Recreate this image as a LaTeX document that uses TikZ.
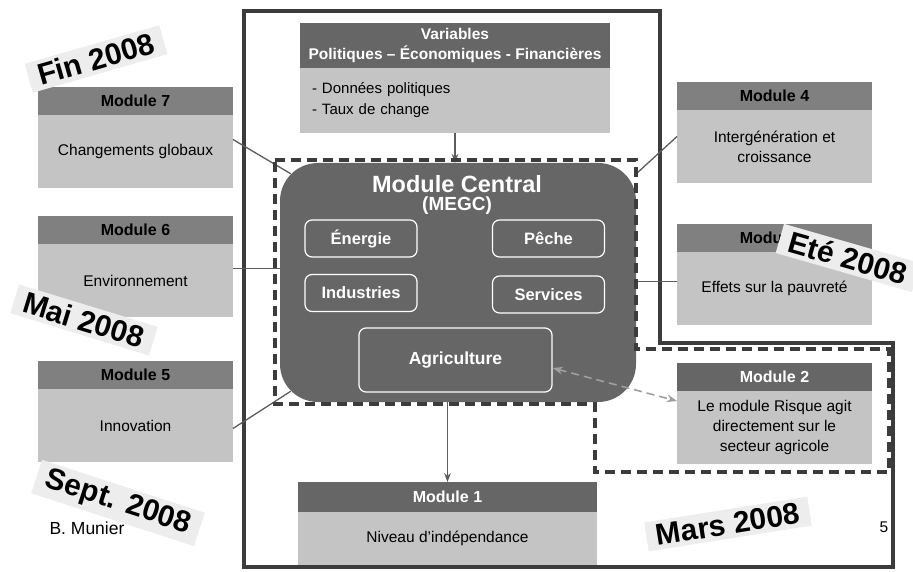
\documentclass[tikz,border=0pt]{standalone}
\usepackage{fontspec}
\setmainfont{Liberation Sans}
\usetikzlibrary{positioning,arrows.meta}
\definecolor{hdrgray}{HTML}{808080}
\definecolor{darkhdr}{HTML}{666666}
\definecolor{bodygray}{HTML}{C4C4C4}
\definecolor{framegray}{HTML}{3C3C3C}
\definecolor{linkgray}{HTML}{5C5C5C}
\definecolor{stagebg}{HTML}{EDEDED}

\begin{document}
\begin{tikzpicture}[x=1pt, y=-1pt, >=Stealth,
    hdr/.style = {fill=hdrgray, minimum width=195, minimum height=28, inner sep=0, outer sep=0, font=\fontsize{16}{18}\selectfont\bfseries},
    hdrw/.style = {hdr, fill=darkhdr, text=white},
    modbody/.style = {fill=bodygray, minimum width=195, minimum height=73, inner sep=0, outer sep=0, align=center, font=\fontsize{15.5}{20}\selectfont},
    sect/.style = {draw=white, line width=1.2pt, rounded corners=7, minimum width=112, minimum height=37, text=white, font=\fontsize{16.5}{18}\selectfont\bfseries},
    link/.style = {draw=linkgray, line width=1.3pt},
    stage/.style = {fill=stagebg, inner xsep=10, inner ysep=4, font=\fontsize{30}{36}\selectfont\bfseries}]
    \useasboundingbox (0,0) rectangle (913,572);

    % frame
    \draw[framegray, line width=4pt] (244,11) -- (660,11) -- (660,343) -- (893,343) -- (893,567) -- (244,567) -- cycle;

    % variables
    \node[hdrw, minimum width=310, minimum height=45, align=center, font=\fontsize{15.5}{20}\selectfont\bfseries] (vh) at (455,45.5) {Variables\\Politiques -- Économiques - Financières};
    \node[modbody, minimum width=310, minimum height=65, text width=286, align=left, font=\fontsize{15}{21}\selectfont] (vb) [below=0pt of vh] {- Données politiques\\- Taux de change};

    % central module
    \node[fill=darkhdr, rounded corners=38, minimum width=356, minimum height=239] (central) at (458,282.5) {};
    \node[text=white, font=\fontsize{23.5}{26}\selectfont\bfseries] (ctitle) at (457,184) {Module Central};
    \node[text=white, font=\fontsize{19}{22}\selectfont\bfseries] (cmegc) at (457,206) {(MEGC)};
    \node[sect] (energie) at (361,238.5) {Énergie};
    \node[sect] (peche) at (548.5,238.5) {Pêche};
    \node[sect] (indus) at (361,293) {Industries};
    \node[sect] (serv) at (548.5,294.5) {Services};
    \node[sect, minimum width=193, minimum height=64, font=\fontsize{17.5}{20}\selectfont\bfseries] (agri) at (455.5,360) {Agriculture};

    % modules
    \node[hdr] (m7h) at (135.5,101) {Module 7};
    \node[modbody] (m7) [below=0pt of m7h] {Changements globaux};
    \node[hdr] (m6h) at (135.5,230) {Module 6};
    \node[modbody] (m6) [below=0pt of m6h] {Environnement};
    \node[hdr] (m5h) at (135.5,375) {Module 5};
    \node[modbody] (m5) [below=0pt of m5h] {Innovation};
    \node[hdr] (m4h) at (774.5,96) {Module 4};
    \node[modbody] (m4) [below=0pt of m4h] {Intergénération et\\croissance};
    \node[hdr] (m3h) at (774.5,238) {Module 3};
    \node[modbody] (m3) [below=0pt of m3h] {Effets sur la pauvreté};
    \node[hdrw] (m2h) at (774.5,377) {Module 2};
    \node[modbody] (m2) [below=0pt of m2h] {Le module Risque agit\\directement sur le\\secteur agricole};
    \node[hdrw, minimum width=299, minimum height=30] (m1h) at (447.5,497) {Module 1};
    \node[modbody, minimum width=299, minimum height=53] (m1) [below=0pt of m1h] {Niveau d'indépendance};

    % links
    \draw[link, ->] (vb.south) -- (vb.south |- central.north);
    \draw[link, ->] (central.south -| m1h.north) -- (m1h.north);
    \draw[link, <->, draw=gray!75, line width=1.6pt, dash pattern=on 8pt off 5pt] ([yshift=-8pt]agri.east) -- ([yshift=-10pt]m2.north west);
    \draw[link] ([yshift=12pt]m7.east) -- ([xshift=11pt, yshift=-11pt]central.north west);
    \draw[link] ([yshift=12pt]m6.east) -- ([yshift=12pt]m6.east -| central.west);
    \draw[link] ([yshift=-3pt]m5.east) -- ([xshift=11pt, yshift=11pt]central.south west);
    \draw[link] ([yshift=10pt]m4.west) -- ([yshift=-11pt]central.north east);
    \draw[link] ([yshift=7pt]m3.west) -- ([yshift=7pt]m3.west -| central.east);

    % dashed stage
    \draw[framegray, line width=4pt, dash pattern=on 10pt off 6pt] (275,160) -- (636,160) -- (636,349) -- (889,349) -- (889,472) -- (595,472) -- (595,404) -- (275,404) -- cycle;

    % stages
    \node[stage, rotate=16] (fin) at (96,59) {Fin 2008};
    \node[stage, rotate=-17] (mai) at (84,320) {Mai 2008};
    \node[stage, rotate=-18] (sept) at (118,503) {Sept. 2008};
    \node[stage, rotate=-16] (ete) at (848,258) {Eté 2008};
    \node[stage, rotate=9] (mars) at (728,524) {Mars 2008};

    \node[font=\fontsize{17.5}{20}\selectfont] (author) at (87,528) {B. Munier};
    \node[font=\fontsize{15.5}{18}\selectfont] (page) at (884,527) {5};
\end{tikzpicture}
\end{document}
